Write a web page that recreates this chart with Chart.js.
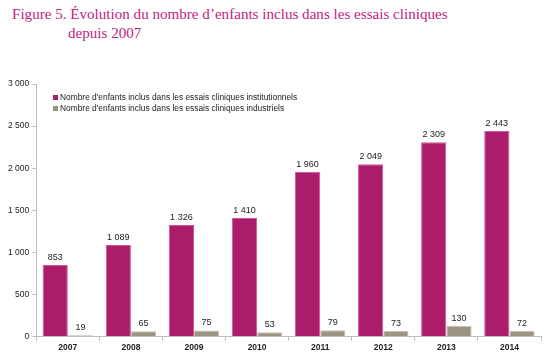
<!DOCTYPE html>
<html>
<head>
<meta charset="utf-8">
<script src="https://cdn.jsdelivr.net/npm/chart.js@4/dist/chart.umd.min.js"></script>
<style>
  body { margin: 0; background: #fff; }
  #wrap { position: relative; width: 550px; height: 358px; }
  #title {
    position: absolute; left: 12px; top: 5px;
    font-family: "Liberation Serif", serif; font-size: 15.1px; line-height: 19px;
    color: #c2237c; white-space: nowrap;
  }
  #title .l2 { padding-left: 56px; }
  #legend {
    position: absolute; left: 53px; top: 92px;
    font-family: "Liberation Sans", Arial, sans-serif; font-size: 8.4px; color: #222;
    line-height: 11px;
  }
  #legend span.sw { display: inline-block; width: 5px; height: 5px; margin-right: 2px; }
  canvas { position: absolute; left: 0; top: 0; }
</style>
</head>
<body>
<div id="wrap">
  <div id="title">Figure 5. Évolution du nombre d’enfants inclus dans les essais cliniques<br><span class="l2">depuis 2007</span></div>
  <canvas id="c" width="550" height="358"></canvas>
  <div id="legend"></div>
</div>
<script>
const years = ['2007', '2008', '2009', '2010', '2011', '2012', '2013', '2014'];
const institutionnels = [853, 1089, 1326, 1410, 1960, 2049, 2309, 2443];
const industriels = [19, 65, 75, 53, 79, 73, 130, 72];
const seriesNames = [
  "Nombre d'enfants inclus dans les essais cliniques institutionnels",
  "Nombre d'enfants inclus dans les essais cliniques industriels"
];
const seriesColors = ['#ab1c6a', '#9c9482'];
const seriesBorders = ['#d0559a', '#c9c2b3'];

// thousands separated by a space, like the source
function fmt(v) {
  return String(v).replace(/\B(?=(\d{3})+(?!\d))/g, ' ');
}

// labels above the bars
const barLabels = {
  id: 'barLabels',
  afterDatasetsDraw(chart) {
    const ctx = chart.ctx;
    ctx.save();
    ctx.font = '9px "Liberation Sans", Arial, sans-serif';
    ctx.fillStyle = '#222';
    ctx.textAlign = 'center';
    ctx.textBaseline = 'alphabetic';
    chart.data.datasets.forEach((ds, i) => {
      chart.getDatasetMeta(i).data.forEach((bar, j) => {
        ctx.fillText(fmt(ds.data[j]), bar.x, bar.y - 5);
      });
    });
    ctx.restore();
  }
};

const legendBox = document.getElementById('legend');
seriesNames.forEach((name, i) => {
  legendBox.insertAdjacentHTML('beforeend',
    `<div><span class="sw" style="background:${seriesColors[i]}"></span>${name}</div>`);
});

new Chart(document.getElementById('c').getContext('2d'), {
  type: 'bar',
  data: {
    labels: years,
    datasets: [{
      label: seriesNames[0],
      data: institutionnels,
      backgroundColor: seriesColors[0],
      borderColor: seriesBorders[0],
      borderWidth: 1
    }, {
      label: seriesNames[1],
      data: industriels,
      backgroundColor: seriesColors[1],
      borderColor: seriesBorders[1],
      borderWidth: 1
    }]
  },
  options: {
    responsive: false,
    animation: false,
    layout: { padding: { top: 84, right: 9, left: 5, bottom: 3 } },
    plugins: {
      legend: { display: false },
      tooltip: { enabled: false }
    },
    datasets: { bar: { categoryPercentage: 0.8, barPercentage: 1.0 } },
    scales: {
      x: {
        grid: { display: true, drawOnChartArea: false, offset: true, tickLength: 4, color: '#bfbfbf' },
        border: { color: '#bfbfbf' },
        ticks: { color: '#222', font: { family: '"Liberation Sans", Arial, sans-serif', size: 8.5, weight: 'bold' }, padding: 2 }
      },
      y: {
        min: 0, max: 3000,
        grid: { display: true, drawOnChartArea: false, tickLength: 4, color: '#bfbfbf' },
        border: { color: '#bfbfbf' },
        ticks: {
          stepSize: 500, color: '#222', padding: 3,
          font: { family: '"Liberation Sans", Arial, sans-serif', size: 8.5 },
          callback: v => fmt(v)
        }
      }
    }
  },
  plugins: [barLabels]
});
</script>
</body>
</html>
